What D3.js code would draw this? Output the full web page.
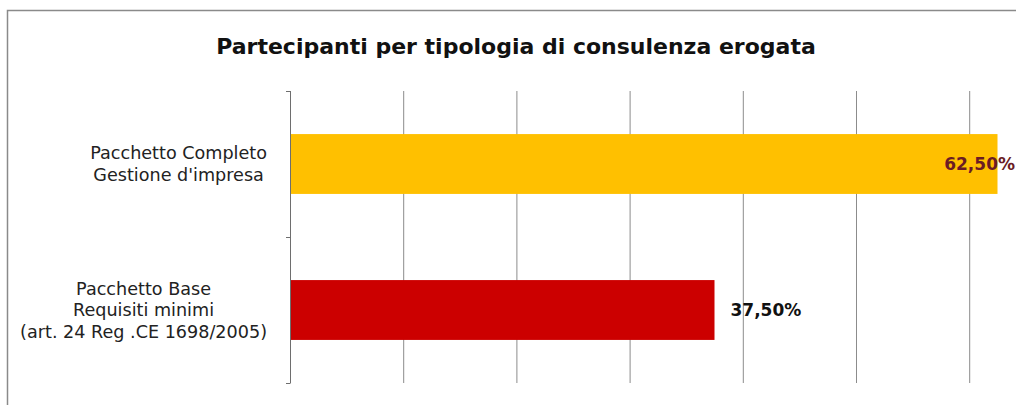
<!DOCTYPE html>
<html>
<head>
<meta charset="utf-8">
<script src="https://cdn.jsdelivr.net/npm/d3@7"></script>
<style>
  html, body { margin: 0; padding: 0; background: #fff; }
  svg { display: block; }
</style>
</head>
<body>
<svg id="chart" width="1016" height="405"></svg>
<script>
// Chart data
const title = "Partecipanti per tipologia di consulenza erogata";
const categories = [
  ["Pacchetto Completo", "Gestione d'impresa"],
  ["Pacchetto Base", "Requisiti minimi", "(art. 24 Reg .CE 1698/2005)"]
];
const values = [62.5, 37.5];            // percent
const barColors = ["#FFC000", "#CC0000"];
const labelColors = ["#6b1c24", "#111111"];
const gridTicks = [0, 10, 20, 30, 40, 50, 60];

const W = 1016, H = 405;
const plot = { left: 290, top: 91, bottom: 383, unit: 113.2 }; // unit = px per 10%

const svg = d3.select("#chart");
const font = "'DejaVu Sans', Verdana, sans-serif";

// Outer chart frame (extends past the right and bottom edges)
svg.append("rect")
  .attr("x", 7.5).attr("y", 10.5)
  .attr("width", W + 20).attr("height", H + 20)
  .attr("fill", "#fff")
  .attr("stroke", "#8a8a8a").attr("stroke-width", 1.5);

// Title
svg.append("text")
  .attr("x", 516).attr("y", 54)
  .attr("text-anchor", "middle")
  .attr("font-family", font)
  .attr("font-weight", "bold")
  .attr("font-size", 22)
  .attr("fill", "#111")
  .text(title);

// Scales
const x = d3.scaleLinear()
  .domain([0, 70])
  .range([plot.left, plot.left + plot.unit * 7]);

const idx = categories.map((d, i) => i);
const y = d3.scaleBand()
  .domain(idx)
  .range([plot.top, plot.bottom])
  .padding(0);

const barH = y.bandwidth() * 0.41;

// Vertical gridlines
svg.append("g")
  .selectAll("line")
  .data(gridTicks.filter(t => t > 0))
  .join("line")
  .attr("x1", d => x(d) + 0.5).attr("x2", d => x(d) + 0.5)
  .attr("y1", plot.top).attr("y2", plot.bottom)
  .attr("stroke", "#8c8c8c").attr("stroke-width", 1);

// Bars
svg.append("g")
  .selectAll("rect")
  .data(values)
  .join("rect")
  .attr("x", x(0))
  .attr("y", (d, i) => y(i) + (y.bandwidth() - barH) / 2)
  .attr("width", d => x(d) - x(0))
  .attr("height", barH)
  .attr("fill", (d, i) => barColors[i]);

// Category axis line with tick marks at band boundaries
const axis = svg.append("g");
axis.append("line")
  .attr("x1", plot.left + 0.5).attr("x2", plot.left + 0.5)
  .attr("y1", plot.top).attr("y2", plot.bottom)
  .attr("stroke", "#6e6e6e").attr("stroke-width", 1);
const bounds = idx.map(i => y(i)).concat([plot.bottom]);
axis.selectAll("line.tick")
  .data(bounds)
  .join("line")
  .attr("class", "tick")
  .attr("x1", plot.left - 4).attr("x2", plot.left + 0.5)
  .attr("y1", d => d + 0.5).attr("y2", d => d + 0.5)
  .attr("stroke", "#6e6e6e").attr("stroke-width", 1);

// Category labels: each block of lines centred on itself, block right-aligned to the axis
const labelRight = 267;
const lineH = 21.8;
categories.forEach((lines, i) => {
  const g = svg.append("g");
  const cy = y(i) + y.bandwidth() / 2;
  const texts = g.selectAll("text")
    .data(lines)
    .join("text")
    .attr("font-family", font)
    .attr("font-size", 17.6)
    .attr("fill", "#222")
    .attr("text-anchor", "middle")
    .attr("dy", "0.36em")
    .attr("y", (d, k) => cy + (k - (lines.length - 1) / 2) * lineH)
    .text(d => d);
  let maxW = 0;
  texts.each(function () { maxW = Math.max(maxW, this.getComputedTextLength()); });
  texts.attr("x", labelRight - maxW / 2);
});

// Value labels to the right of each bar, kept inside the chart area
const fmt = v => v.toFixed(2).replace(".", ",") + "%";
values.forEach((v, i) => {
  const t = svg.append("text")
    .attr("font-family", font)
    .attr("font-weight", "bold")
    .attr("font-size", 17)
    .attr("fill", labelColors[i])
    .attr("dy", "0.36em")
    .attr("y", y(i) + y.bandwidth() / 2)
    .text(fmt(v));
  const w = t.node().getComputedTextLength();
  t.attr("x", Math.min(x(v) + 16, 1015 - w));
});
</script>
</body>
</html>
